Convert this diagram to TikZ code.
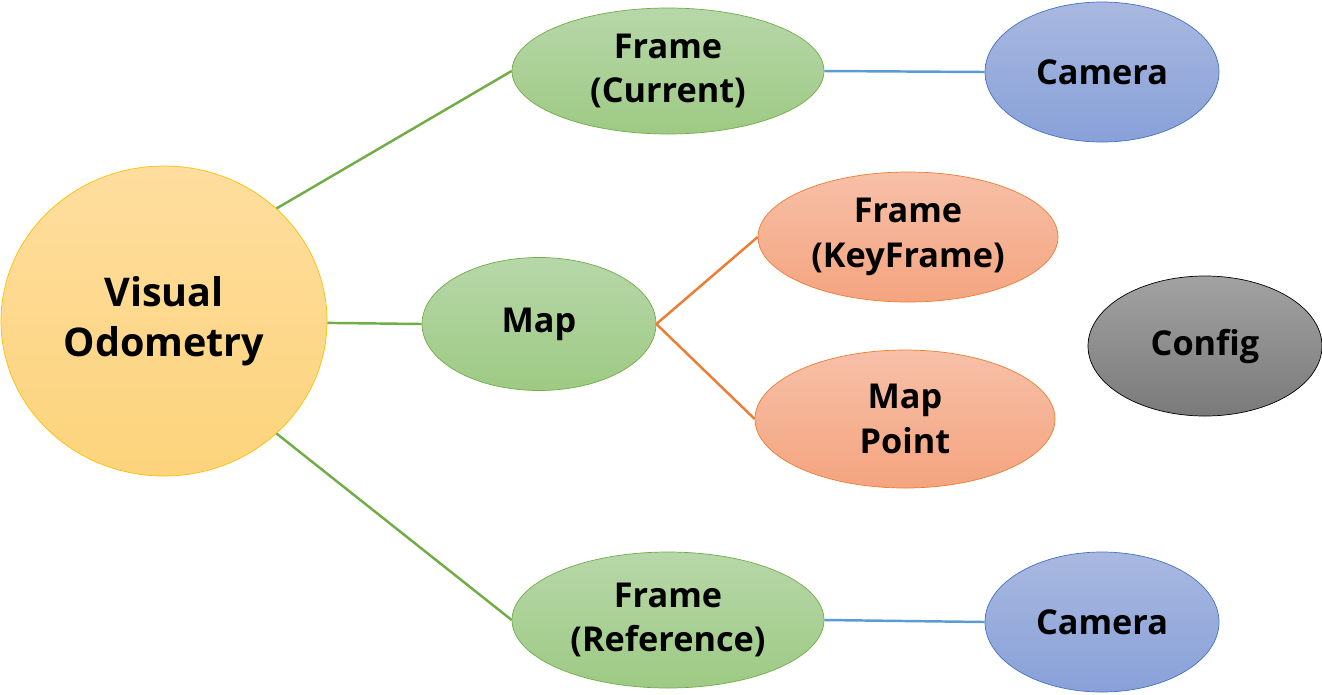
\documentclass[tikz,border=0pt]{standalone}
\usepackage{fontspec}
\setmainfont{Open Sans}
\usetikzlibrary{shapes.geometric}

\definecolor{grnline}{HTML}{70AD47}
\definecolor{grntop}{HTML}{B7D7A9}
\definecolor{grnbot}{HTML}{9ECA84}
\definecolor{orgline}{HTML}{ED7D31}
\definecolor{orgtop}{HTML}{F7C0A8}
\definecolor{orgbot}{HTML}{F4A47F}
\definecolor{bluline}{HTML}{4472C4}
\definecolor{blutop}{HTML}{A9B8E0}
\definecolor{blubot}{HTML}{88A1D8}
\definecolor{yelline}{HTML}{FFC000}
\definecolor{yeltop}{HTML}{FEDD9E}
\definecolor{yelbot}{HTML}{FDD47C}
\definecolor{graytop}{HTML}{A2A2A2}
\definecolor{graybot}{HTML}{7A7A7A}
\definecolor{blulink}{HTML}{5B9BD5}

\begin{document}
\begin{tikzpicture}[x=0.02cm, y=-0.02cm,
  blob/.style={ellipse, inner sep=0pt, align=center, font=\bfseries\fontsize{19.5}{25.5}\selectfont},
  grnblob/.style={blob, draw=grnline, top color=grntop, bottom color=grnbot},
  orgblob/.style={blob, draw=orgline, top color=orgtop, bottom color=orgbot},
  blublob/.style={blob, draw=bluline, top color=blutop, bottom color=blubot},
  link/.style={line width=1.4pt}]
\useasboundingbox (0,0) rectangle (1322,694);

\node[blob, draw=yelline, top color=yeltop, bottom color=yelbot,
      minimum width=326*0.02cm, minimum height=310*0.02cm,
      font=\bfseries\fontsize{22.5}{28.5}\selectfont] (vo) at (164,321) {Visual\\Odometry};

\node[grnblob, minimum width=312*0.02cm, minimum height=126*0.02cm] (fcur) at (668,71) {Frame\\(Current)};
\node[grnblob, minimum width=234*0.02cm, minimum height=133*0.02cm] (map) at (539,324) {Map};
\node[grnblob, minimum width=312*0.02cm, minimum height=136*0.02cm] (fref) at (668,620) {Frame\\(Reference)};

\node[orgblob, minimum width=300*0.02cm, minimum height=130*0.02cm] (kf) at (908,237) {Frame\\(KeyFrame)};
\node[orgblob, minimum width=300*0.02cm, minimum height=138*0.02cm] (mpt) at (905,419) {Map\\Point};

\node[blublob, minimum width=234*0.02cm, minimum height=140*0.02cm] (cam1) at (1102,72) {Camera};
\node[blublob, minimum width=234*0.02cm, minimum height=140*0.02cm] (cam2) at (1102,622) {Camera};

\node[blob, draw=black, top color=graytop, bottom color=graybot,
      minimum width=234*0.02cm, minimum height=140*0.02cm] (cfg) at (1205,346) {Config};

\draw[link, grnline] (vo.45) -- (fcur.west);
\draw[link, grnline] (vo) -- (map.west);
\draw[link, grnline] (vo.-45) -- (fref.west);
\draw[link, orgline] (map.east) -- (kf.west);
\draw[link, orgline] (map.east) -- (mpt.west);
\draw[link, blulink] (fcur.east) -- (cam1.west);
\draw[link, blulink] (fref.east) -- (cam2.west);
\end{tikzpicture}
\end{document}
